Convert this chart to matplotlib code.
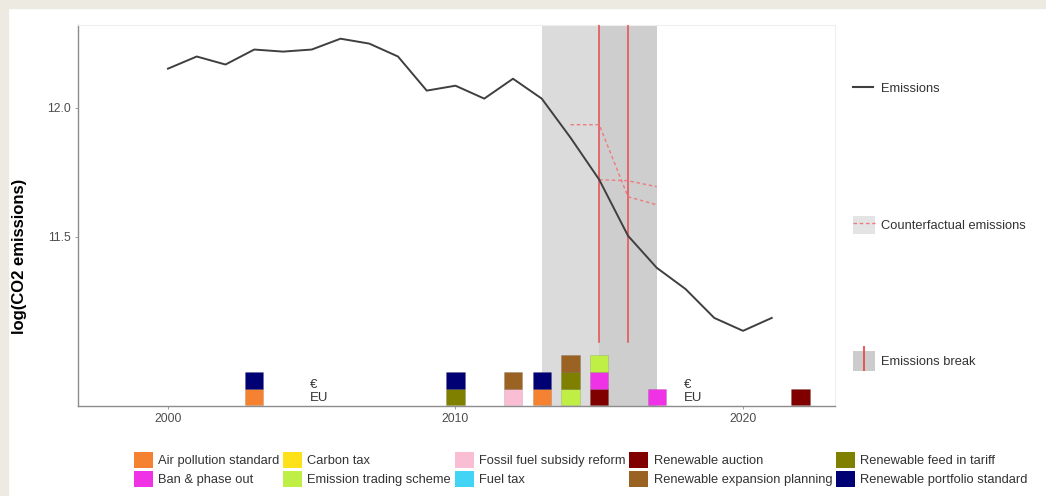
import matplotlib
matplotlib.use("Agg")
import matplotlib.pyplot as plt
from matplotlib.patches import Patch, Rectangle
from matplotlib.lines import Line2D
from matplotlib.legend_handler import HandlerTuple

plt.rcParams['font.family'] = ['Liberation Sans', 'DejaVu Sans']

# ---------------- data ----------------
years = list(range(2000, 2022))
emissions = [12.151, 12.198, 12.167, 12.225, 12.217, 12.225, 12.267, 12.248,
             12.198, 12.066, 12.085, 12.035, 12.112, 12.035, 11.884, 11.721,
             11.504, 11.380, 11.298, 11.186, 11.136, 11.186]

cf1_years = [2014, 2015, 2016, 2017]
cf1_values = [11.934, 11.934, 11.655, 11.624]
cf2_years = [2015, 2016, 2017]
cf2_values = [11.721, 11.717, 11.694]

break_years = [2015, 2016]
break_lo = [2013, 2015]
break_hi = [2017, 2017]

policy_years = [2003, 2003, 2010, 2010, 2012, 2012, 2013, 2013,
                2014, 2014, 2014, 2015, 2015, 2015, 2017, 2022]
policy_types = ["Air pollution standard", "Renewable portfolio standard",
                "Renewable feed in tariff", "Renewable portfolio standard",
                "Fossil fuel subsidy reform", "Renewable expansion planning",
                "Air pollution standard", "Renewable portfolio standard",
                "Emission trading scheme", "Renewable feed in tariff", "Renewable expansion planning",
                "Renewable auction", "Ban & phase out", "Emission trading scheme",
                "Ban & phase out", "Renewable auction"]

eu_years = [2005, 2018]

policy_names = ["Air pollution standard", "Ban & phase out", "Carbon tax",
                "Emission trading scheme", "Fossil fuel subsidy reform", "Fuel tax",
                "Renewable auction", "Renewable expansion planning",
                "Renewable feed in tariff", "Renewable portfolio standard"]
policy_colors = ["#f58231", "#f032e6", "#ffe119", "#bfef45", "#fabed4",
                 "#42d4f4", "#800000", "#9a6324", "#808000", "#000075"]

# ---------------- figure ----------------
W, H = 1046, 496
fig = plt.figure(figsize=(W / 100, H / 100), dpi=100)
fig.patch.set_facecolor("white")
beige = "#edebe1"
fig.patches.append(Rectangle((0, 0), 8 / W, 1, transform=fig.transFigure, color=beige, zorder=0))
fig.patches.append(Rectangle((0, 1 - 8 / H), 1, 8 / H, transform=fig.transFigure, color=beige, zorder=0))

ax = fig.add_axes([78 / W, 1 - 406 / H, (835 - 78) / W, (406 - 25) / H])
ax.set_facecolor("white")
ymin, ymax = 10.845, 12.32
ax.set_xlim(1996.87, 2023.2)
ax.set_ylim(ymin, ymax)

# break shading
for lo, hi, a in zip(break_lo, break_hi, [0.14, 0.06]):
    ax.axvspan(lo, hi, color="black", alpha=a, lw=0, zorder=1)

# break lines
for b in break_years:
    ax.plot([b, b], [11.093, ymax], color="#e84a4f", lw=1.1, zorder=3)

# counterfactuals
for xs, ys in [(cf1_years, cf1_values), (cf2_years, cf2_values)]:
    ax.plot(xs, ys, color="#ee7a7e", lw=1.0, ls=(0, (2.5, 2)), zorder=3)

# emissions
ax.plot(years, emissions, color="#3f3f3f", lw=1.4, zorder=4)

# policy tiles
tile_h = 0.0647
tile_w = 0.63
cmap = dict(zip(policy_names, policy_colors))
stack = {}
for yr, pt in zip(policy_years, policy_types):
    k = stack.get(yr, 0)
    ax.bar(yr, tile_h, width=tile_w, bottom=ymin + 0.003 + k * tile_h,
           color=cmap[pt], edgecolor=(0, 0, 0, 0.12), lw=0.6, zorder=5)
    stack[yr] = k + 1

for yr in eu_years:
    ax.text(yr - 0.05, ymin + 0.006, "€\nEU", ha="left", va="bottom",
            fontsize=9.5, color="#333333", linespacing=1.15, zorder=6)

# axes styling
for s in ["top", "right"]:
    ax.spines[s].set_color("#eeeeee")
    ax.spines[s].set_linewidth(0.8)
for s in ["left", "bottom"]:
    ax.spines[s].set_color("#8c8c8c")
    ax.spines[s].set_linewidth(1.0)
ax.set_xticks([2000, 2010, 2020])
ax.set_yticks([11.5, 12.0])
ax.set_yticklabels(["11.5", "12.0"])
ax.tick_params(axis="both", length=2, width=0.6, color="#8c8c8c",
               labelsize=8.8, labelcolor="#4d4d4d", pad=3)
fig.text(20 / W, 1 - 256 / H, "log(CO2 emissions)", rotation=90,
         ha="center", va="center", fontsize=12, fontweight="bold", color="black")

# right legends
fs = 9.3
h1 = [Line2D([], [], color="#3f3f3f", lw=1.5)]
fig.legend(h1, ["Emissions"], loc="center left", bbox_to_anchor=(853 / W, 1 - 89 / H),
           frameon=False, borderpad=0, borderaxespad=0, handlelength=1.55,
           handletextpad=0.62, fontsize=fs, labelcolor="#333333")
h2 = [(Patch(facecolor="#e4e4e4", edgecolor="none"),
       Line2D([], [], color="#ee7a7e", lw=1.0, ls=(0, (2.5, 2))))]
fig.legend(h2, ["Counterfactual emissions"], loc="center left",
           bbox_to_anchor=(853 / W, 1 - 225 / H), frameon=False, borderpad=0,
           borderaxespad=0, handlelength=1.7, handleheight=1.7, handletextpad=0.45,
           fontsize=fs, labelcolor="#333333",
           handler_map={tuple: HandlerTuple(ndivide=1, pad=0)})
h3 = [(Patch(facecolor="#cccccc", edgecolor="none"),
       Line2D([], [], color="#e84a4f", lw=0, marker="|", markersize=18, markeredgewidth=1.3))]
fig.legend(h3, ["Emissions break"], loc="center left",
           bbox_to_anchor=(853 / W, 1 - 361 / H), frameon=False, borderpad=0,
           borderaxespad=0, handlelength=1.7, handleheight=1.9, handletextpad=0.45,
           fontsize=fs, labelcolor="#333333",
           handler_map={tuple: HandlerTuple(ndivide=1, pad=0)})

# bottom legend
ph = [Patch(facecolor=c, edgecolor="none") for c in policy_colors]
fig.legend(ph, policy_names, loc="upper left", bbox_to_anchor=(134 / W, 1 - 452 / H),
           ncol=5, frameon=False, borderpad=0, borderaxespad=0,
           handlelength=1.47, handleheight=1.47, handletextpad=0.4,
           columnspacing=0.3, labelspacing=0.3, fontsize=fs, labelcolor="#333333")

fig.savefig("out.png", dpi=100)
